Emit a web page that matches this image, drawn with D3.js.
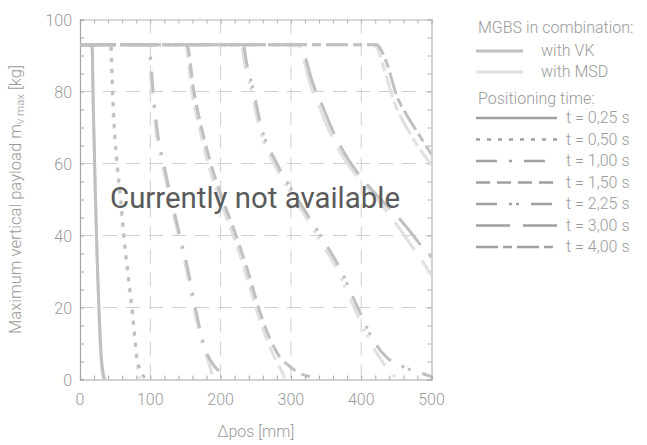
<!DOCTYPE html>
<html><head><meta charset="utf-8">
<script src="https://cdn.jsdelivr.net/npm/d3@7"></script>
<style>
html,body{margin:0;padding:0;background:#fff;}
svg{display:block;font-family:Roboto,"Noto Sans",sans-serif;}
</style></head>
<body><svg id="c" width="647" height="445"></svg>
<script>
// ---- data ----
const xTicks = [0, 100, 200, 300, 400, 500];
const yTicks = [0, 20, 40, 60, 80, 100];
const timeLabels = ["t = 0,25 s","t = 0,50 s","t = 1,00 s","t = 1,50 s","t = 2,25 s","t = 3,00 s","t = 4,00 s"];
const comboLabels = ["with VK","with MSD"];

// [Δpos mm, payload kg]
const vk025 = [[0,93],[17,93],[19,75],[22,50],[25,30],[28,15],[30,7],[32,3],[35,0]];
const msd025 = [[0,93],[17,93],[19,75],[22,50],[25,30],[27.5,15],[29.5,7],[31,3],[33,0]];
const vk050 = [[0,93],[44,93],[46.5,80],[49,70],[53,60],[58,50],[62.5,40],[68,30],[74,20],[78,12],[81,6],[85,3],[89,1.3],[94,0]];
const msd050 = [[0,93],[43,93],[45.5,80],[48,70],[52,60],[57,50],[61.5,40],[67,30],[73,20],[77,12],[80,6],[82.5,2.5],[84.5,0]];
const vk100 = [[0,93],[98,93],[104,80],[110,69],[119,60],[130,50],[142,40],[154,30],[164,20],[173,12],[181,7],[190,4],[200,2],[210,0.8]];
const msd100 = [[0,93],[97,93],[102,80],[108,69],[117,60],[128,50],[140,40],[152,30],[162,20],[171,12],[179,7],[185,3.5],[189.5,0]];
const vk150 = [[0,93],[152,93],[162,80],[174,69],[186,60],[203,50],[222,40],[239,30],[254,20],[271,11],[285,6],[296,4],[310,2],[327,0.8]];
const msd150 = [[0,93],[150,93],[159,80],[171,69],[182,60],[199,50],[218,40],[235,30],[250,20],[266,11],[277,6],[285,3],[292,0]];
const vk225 = [[0,93],[232,93],[237,88],[247,80],[258,70],[280,60],[310,50],[342,40],[372,30],[395,20],[420,10],[437,6],[455,4],[472,2.5],[488,1.6],[500,0.8]];
const msd225 = [[0,93],[229,93],[234,88],[244,80],[255,70],[276,60],[306,50],[337,40],[367,30],[390,20],[414,10],[430,5],[440,2.5],[451,0]];
const vk300 = [[0,93],[313,93],[318,91],[330,83],[347,75],[362,68],[382,61],[405,55],[428,50],[448,46],[470,41],[486,37],[500,34]];
const msd300 = [[0,93],[310,93],[315,91],[326,83],[342,75],[357,68],[377,61],[400,55],[423,50],[443,45],[465,39],[483,34],[500,29]];
const vk400 = [[0,93],[422,93],[427,92],[437,87.5],[451,78.6],[463,74],[475,70.2],[500,62.5]];
const msd400 = [[0,93],[418,93],[423,92],[433,86],[447,77],[459,72],[472,67.5],[500,59.5]];

const vkSeries = [vk025, vk050, vk100, vk150, vk225, vk300, vk400];
const msdSeries = [msd025, msd050, msd100, msd150, msd225, msd300, msd400];

// ---- styles ----
const dashes = ["none","4,7","21,12,3,12","14,7","21,12,3,4,3,12","34,13","22,5,9,5"];
const colVK = "#c0c0c0", colMSD = "#e0e0e0";
const txtCol = "#9a9a9a";

const svg = d3.select("#c");
const m = {l:80, r:431.5, t:19.5, b:379.5};
const x = d3.scaleLinear().domain([0,500]).range([m.l, m.r]);
const y = d3.scaleLinear().domain([0,100]).range([m.b, m.t]);

svg.append("defs").append("clipPath").attr("id","clip")
  .append("rect").attr("x", m.l - 2).attr("y", m.t).attr("width", m.r - m.l + 2).attr("height", m.b - m.t + 2);

// grid
const grid = svg.append("g");
grid.selectAll(".gx").data([100,200,300,400]).join("line")
  .attr("x1", d=>x(d)).attr("x2", d=>x(d)).attr("y1", m.t).attr("y2", m.b)
  .attr("stroke","#cfcfcf").attr("stroke-width",1).attr("stroke-dasharray","14,9");
grid.selectAll(".gy").data([20,40,60,80]).join("line")
  .attr("y1", d=>y(d)).attr("y2", d=>y(d)).attr("x1", m.l).attr("x2", m.r)
  .attr("stroke","#cfcfcf").attr("stroke-width",1).attr("stroke-dasharray","14,9");

// axes frame with inward ticks
const axB = d3.axisBottom(x).tickValues(d3.range(0,501,20)).tickSize(-4).tickFormat("");
const axT = d3.axisTop(x).tickValues(d3.range(0,501,20)).tickSize(-4).tickFormat("");
const axL = d3.axisLeft(y).tickValues(d3.range(0,101,5)).tickSize(-4).tickFormat("");
const axR = d3.axisRight(y).tickValues(d3.range(0,101,5)).tickSize(-4).tickFormat("");
function styleAx(g, col){ g.selectAll("path").attr("stroke", col).attr("stroke-width",1.2);
  g.selectAll("line").attr("stroke", col).attr("stroke-width",1); }
svg.append("g").attr("transform",`translate(0,${m.t})`).call(axT).call(g=>styleAx(g,"#b3b3b3"));
svg.append("g").attr("transform",`translate(${m.r},0)`).call(axR).call(g=>styleAx(g,"#b3b3b3"));
svg.append("g").attr("transform",`translate(0,${m.b})`).call(axB).call(g=>styleAx(g,"#a5a5a5"));
svg.append("g").attr("transform",`translate(${m.l},0)`).call(axL).call(g=>styleAx(g,"#a5a5a5"));

// tick labels
const lbl = svg.append("g").attr("fill", txtCol).attr("font-size", 16).attr("font-weight", 300);
lbl.selectAll(".xl").data(xTicks).join("text").attr("x", d=>x(d)).attr("y", 405)
  .attr("text-anchor","middle").text(d=>d);
lbl.selectAll(".yl").data(yTicks).join("text").attr("x", 72).attr("y", d=>y(d)+6)
  .attr("text-anchor","end").text(d=>d);

// axis titles
svg.append("text").attr("x", x(250)).attr("y", 437).attr("text-anchor","middle")
  .attr("fill", txtCol).attr("font-size", 16).attr("font-weight", 300).text("Δpos [mm]");
const yt = svg.append("text").attr("transform","translate(21,334) rotate(-90)")
  .attr("text-anchor","start").attr("fill", txtCol).attr("font-size", 16).attr("font-weight", 300)
  .attr("textLength", 269).attr("lengthAdjust","spacingAndGlyphs");
yt.append("tspan").text("Maximum vertical payload m");
yt.append("tspan").attr("font-size", 11).attr("dy", 3).text("v max");
yt.append("tspan").attr("dy", -3).text(" [kg]");

// curves
const line = d3.line().x(d=>x(d[0])).y(d=>y(d[1])).curve(d3.curveMonotoneX);
const curves = svg.append("g").attr("clip-path","url(#clip)").attr("fill","none").attr("stroke-width",3);
msdSeries.forEach((s,i)=>{
  curves.append("path").attr("d", line(s)).attr("stroke", colMSD).attr("stroke-dasharray", dashes[i]);
});
vkSeries.forEach((s,i)=>{
  curves.append("path").attr("d", line(s)).attr("stroke", colVK).attr("stroke-dasharray", dashes[i]);
});

// overlay text
svg.append("text").attr("x", 255).attr("y", 208).attr("text-anchor","middle")
  .attr("fill","#5a5a5a").attr("font-size", 30)
  .attr("textLength", 290).attr("lengthAdjust","spacingAndGlyphs")
  .text("Currently not available");

// legend
const lg = svg.append("g").attr("font-size", 16).attr("font-weight", 300).attr("fill", txtCol);
lg.append("text").attr("x", 478).attr("y", 33).text("MGBS in combination:");
[colVK, colMSD].forEach((c,i)=>{
  const yy = 51 + i*21;
  lg.append("line").attr("x1",476).attr("x2",523).attr("y1",yy).attr("y2",yy)
    .attr("stroke", c).attr("stroke-width",3);
  lg.append("text").attr("x", 541).attr("y", yy+5).text(comboLabels[i]);
});
lg.append("text").attr("x", 478).attr("y", 104).text("Positioning time:");
timeLabels.forEach((t,i)=>{
  const yy = 118 + i*21.5;
  lg.append("line").attr("x1",476).attr("x2",557).attr("y1",yy).attr("y2",yy)
    .attr("stroke","#a0a0a0").attr("stroke-width",2.5).attr("stroke-dasharray", dashes[i]);
  lg.append("text").attr("x", 566).attr("y", yy+5).text(t);
});
</script></body></html>
